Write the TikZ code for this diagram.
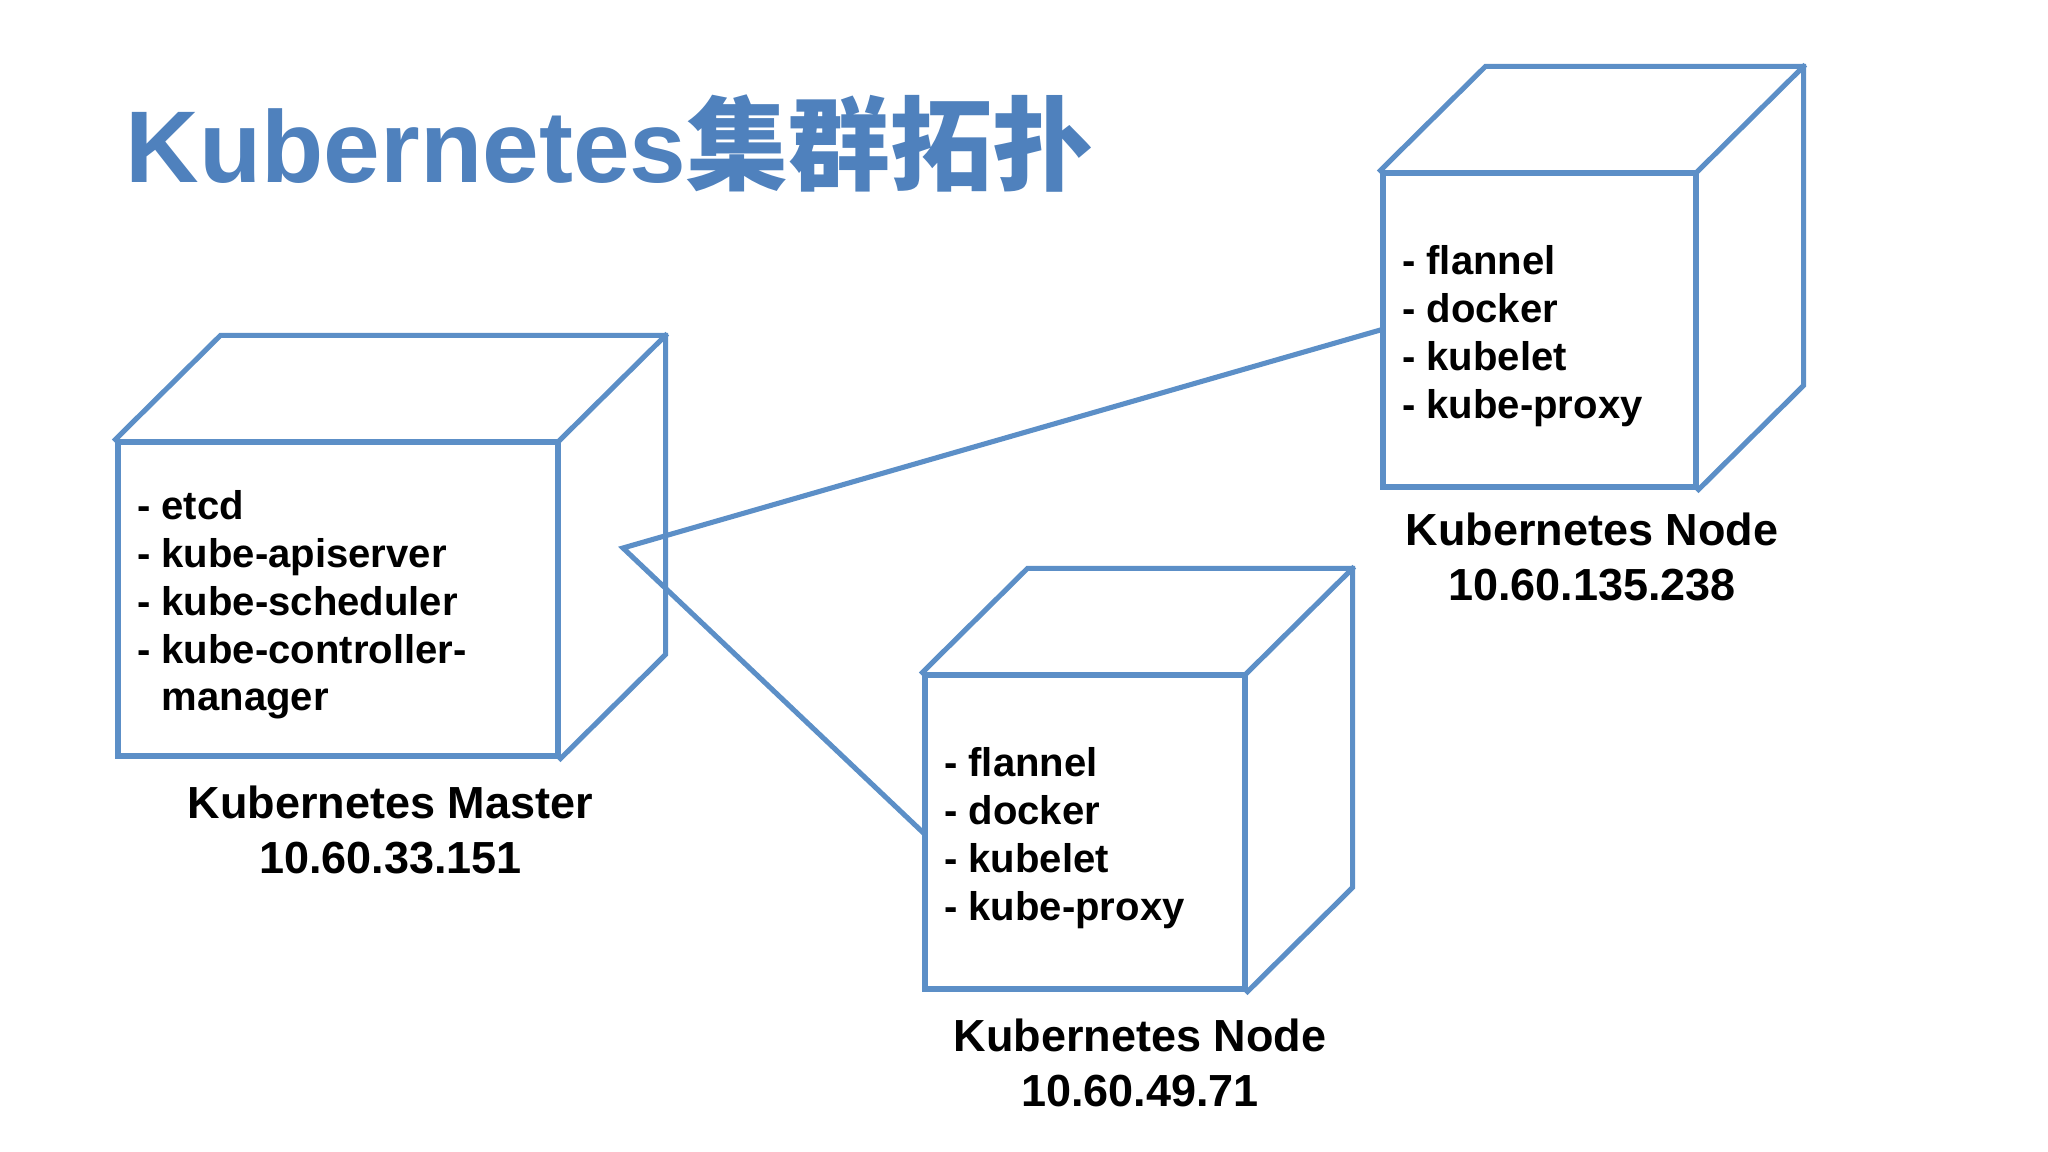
\documentclass[tikz,border=0pt]{standalone}
\usepackage{fontspec}
\setmainfont{Liberation Sans}
\newfontfamily\cjk{Noto Sans CJK SC}
\usepackage{tikz}
\usetikzlibrary{positioning,calc}
\definecolor{titleblue}{RGB}{79,129,189}
\definecolor{lineblue}{RGB}{92,143,199}

\begin{document}
\begin{tikzpicture}[
  cubeface/.style={draw=lineblue, line width=1.45pt, inner sep=0pt, minimum height=3.14cm},
  wire/.style={draw=lineblue, line width=1.45pt, line cap=rect},
  itemlist/.style={align=left, inner sep=0pt, font=\fontsize{11.4}{13.6}\selectfont\bfseries},
  hostlabel/.style={align=center, inner sep=0pt, font=\fontsize{12.8}{15.6}\selectfont\bfseries}
]
\useasboundingbox (0,0) rectangle (20.48,11.52);

\node[anchor=base west, inner sep=0pt, text=titleblue, font=\fontsize{29}{34}\selectfont\bfseries] (title) at (1.25,9.69) {Kubernetes{\cjk 集群拓扑}}; %title

\node[cubeface, minimum width=4.40cm] (master) at (3.38,5.53) {}; %master front
\node[cubeface, minimum width=3.13cm] (nodea) at (15.395,8.22) {}; %node 135.238 front
\node[cubeface, minimum width=3.20cm] (nodeb) at (10.85,3.20) {}; %node 49.71 front

\draw[wire] (master.north west) -- ++(1.05,1.04) -| ($(master.south east)+(1.05,1.04)$) -- (master.south east); %master back
\draw[wire] (master.north east) -- ++(1.05,1.04);
\draw[wire] (nodea.north west) -- ++(1.05,1.04) -| ($(nodea.south east)+(1.05,1.04)$) -- (nodea.south east); %node 135.238 back
\draw[wire] (nodea.north east) -- ++(1.05,1.04);
\draw[wire] (nodeb.north west) -- ++(1.05,1.04) -| ($(nodeb.south east)+(1.05,1.04)$) -- (nodeb.south east); %node 49.71 back
\draw[wire] (nodeb.north east) -- ++(1.05,1.04);

\coordinate (hub) at (6.23,6.04);
\draw[wire] (nodea.west) -- (hub) -- (nodeb.west); %links



\node[itemlist, right=0.21cm of master.west, yshift=-0.06cm] (masterlist) {- etcd\\- kube-apiserver\\- kube-scheduler\\- kube-controller-\\\phantom{-}\ manager};
\node[itemlist, right=0.21cm of nodea.west, yshift=-0.06cm] (nodealist) {- flannel\\- docker\\- kubelet\\- kube-proxy};
\node[itemlist, right=0.21cm of nodeb.west, yshift=-0.06cm] (nodeblist) {- flannel\\- docker\\- kubelet\\- kube-proxy};

\node[hostlabel, below=0.27cm of master.south, xshift=0.525cm] (masterlabel) {Kubernetes Master\\10.60.33.151};
\node[hostlabel, below=0.23cm of nodea.south, xshift=0.525cm] (nodealabel) {Kubernetes Node\\10.60.135.238};
\node[hostlabel, below=0.27cm of nodeb.south, xshift=0.55cm] (nodeblabel) {Kubernetes Node\\10.60.49.71};

\end{tikzpicture}
\end{document}
